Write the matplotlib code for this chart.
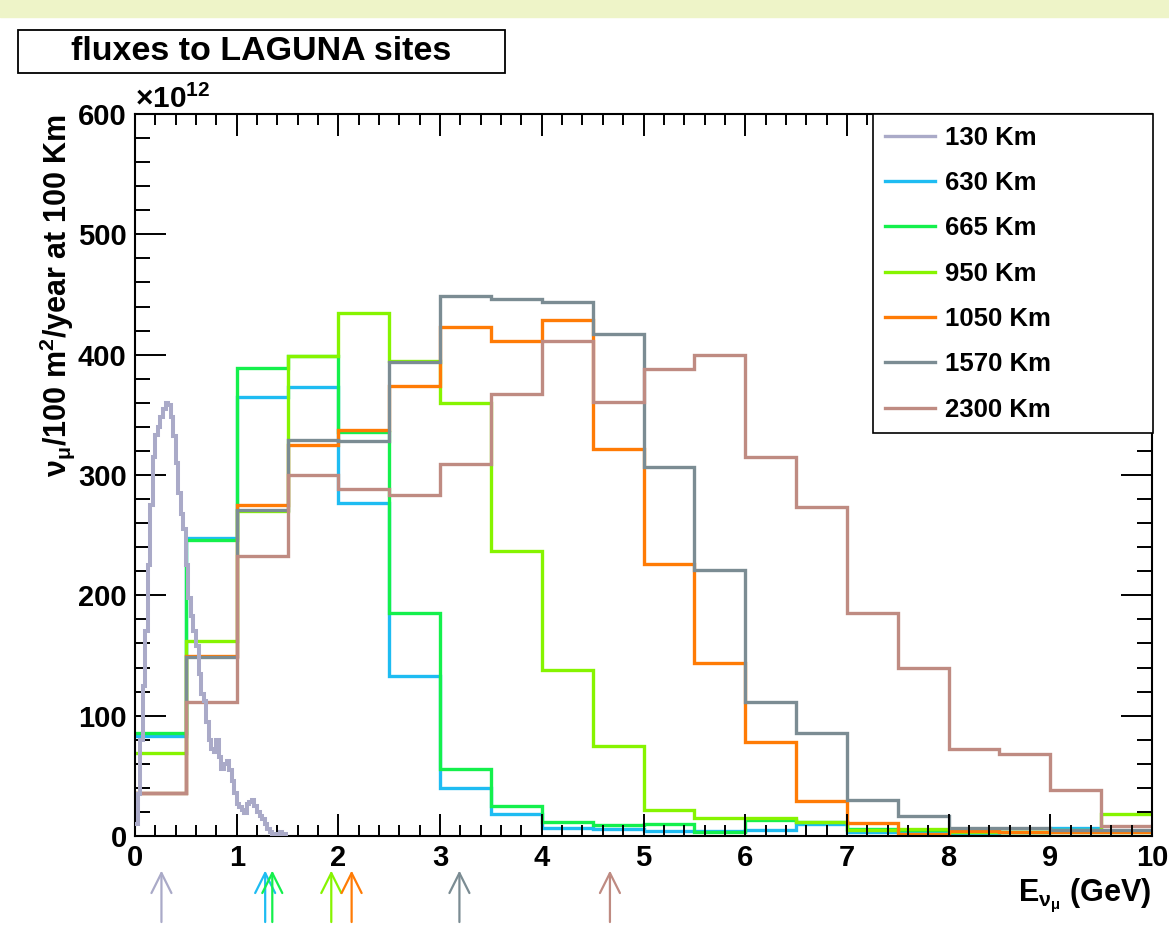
import matplotlib.pyplot as plt
import matplotlib.patches as patches
import numpy as np

plt.rcParams["font.family"] = ["Liberation Sans", "DejaVu Sans"]
plt.rcParams["font.weight"] = "bold"
plt.rcParams["axes.labelweight"] = "bold"
plt.rcParams["mathtext.default"] = "regular"

# neutrino flux per baseline, units of 1e12 nu_mu / 100 m^2 / year at 100 km
edges = np.arange(0, 10.01, 0.5)
labels = ["130 Km", "630 Km", "665 Km", "950 Km", "1050 Km", "1570 Km", "2300 Km"]
colors = ["#aaaac8", "#1ebcf2", "#14f04c", "#86f400", "#ff7b05", "#7b8c93", "#bf8b82"]

# 130 Km is finely binned (0.025 GeV) from 0 to 1.5 GeV
edges_130 = np.arange(0, 1.5001, 0.025)
flux_130 = [10, 35, 80, 125, 170, 225, 275, 315, 333, 340,
            348, 355, 360, 358, 348, 332, 310, 285, 268, 255,
            225, 198, 183, 170, 158, 135, 118, 112, 95, 80,
            72, 70, 80, 66, 56, 60, 62, 55, 46, 36,
            27, 24, 22, 19, 27, 28, 30, 25, 20, 17,
            14, 10, 6, 3, 2, 2, 1, 3, 2, 2]

flux_630 = [83, 248, 365, 373, 277, 133, 40, 18, 7, 6,
            4, 4, 5, 10, 3, 3, 2, 3, 7, 4]
flux_665 = [86, 246, 389, 399, 336, 185, 56, 25, 12, 9,
            10, 3, 13, 12, 6, 5, 3, 3, 3, 3]
flux_950 = [69, 162, 270, 399, 435, 395, 360, 237, 138, 75,
            22, 15, 15, 12, 5, 6, 3, 3, 5, 18]
flux_1050 = [36, 150, 275, 325, 337, 374, 423, 411, 429, 322,
             226, 144, 78, 29, 11, 2, 4, 3, 3, 3]
flux_1570 = [36, 149, 271, 329, 328, 394, 449, 446, 444, 417,
             307, 221, 111, 86, 30, 17, 7, 7, 5, 5]
flux_2300 = [36, 111, 233, 300, 288, 283, 309, 367, 411, 361,
             388, 400, 315, 273, 185, 140, 72, 68, 38, 8]

# first oscillation maximum for each baseline (GeV)
osc_max = [0.26, 1.28, 1.35, 1.93, 2.13, 3.19, 4.67]

fig = plt.figure(figsize=(11.69, 9.34), dpi=100)
fig.patches.append(patches.Rectangle((0, 1 - 17 / 934), 1, 17 / 934,
                                     transform=fig.transFigure, color="#eef4c8", zorder=0))

ax = fig.add_axes([135 / 1169, 1 - 836 / 934, 1017 / 1169, 722 / 934])

series = [flux_630, flux_665, flux_950, flux_1050, flux_1570, flux_2300]
for vals, col, lab in zip(series, colors[1:], labels[1:]):
    ax.stairs(vals, edges, baseline=None, color=col, linewidth=2.4, label=lab)
ax.stairs(flux_130, edges_130, baseline=None, color=colors[0], linewidth=2.9,
          label=labels[0], zorder=3)

ax.set_xlim(0, 10)
ax.set_ylim(0, 600)
ax.set_xticks(np.arange(0, 11, 1))
ax.set_xticks(np.arange(0, 10.01, 0.2), minor=True)
ax.set_yticks(np.arange(0, 601, 100))
ax.set_yticks(np.arange(0, 601, 20), minor=True)
ax.tick_params(which="both", direction="in", top=True, right=True, width=1.4,
               labelsize=21, pad=6)
ax.tick_params(axis="y", which="major", length=22)
ax.tick_params(axis="y", which="minor", length=11)
ax.tick_params(axis="x", which="major", length=16)
ax.tick_params(axis="x", which="minor", length=8)
for lab in ax.get_xticklabels() + ax.get_yticklabels():
    lab.set_fontweight("bold")
for sp in ax.spines.values():
    sp.set_linewidth(1.5)

ax.text(0, 1.0, r"$\times$10$^{12}$", transform=ax.transAxes, fontsize=21.5,
        ha="left", va="bottom")
ax.set_ylabel(r"$ν_{μ}$/100 m$^{2}$/year at 100 Km", fontsize=22, fontweight="bold",
              loc="top", labelpad=1)
ax.set_xlabel(r"E$_{ν_{μ}}$ (GeV)", fontsize=22, fontweight="bold", loc="right", labelpad=3)

leg_handles = [plt.Line2D([], [], color=c, linewidth=2.4) for c in colors]
ax.legend(leg_handles, labels, loc="upper left", bbox_to_anchor=(0.7257, 0, 0.2753, 1.0),
          mode="expand", borderaxespad=0, fontsize=18.5, fancybox=False,
          edgecolor="black", framealpha=1, labelspacing=0.83, handlelength=1.95,
          handletextpad=0.4, borderpad=0.45).get_frame().set_linewidth(1.2)

# arrows marking the first oscillation maximum
tr = ax.get_xaxis_transform()
for xm, col in zip(osc_max, colors):
    ax.annotate("", xy=(xm, -0.044), xytext=(xm, -0.123), xycoords=tr, textcoords=tr,
                annotation_clip=False,
                arrowprops=dict(arrowstyle="->", color=col, lw=1.6, mutation_scale=36))

fig.patches.append(patches.Rectangle((18 / 1169, 1 - 73 / 934), 487 / 1169, 43 / 934,
                                     transform=fig.transFigure, facecolor="white",
                                     edgecolor="black", linewidth=1.3))
fig.text(261 / 1169, 1 - 52 / 934, "fluxes to LAGUNA sites", fontsize=24.5,
         ha="center", va="center")

fig.savefig("out.png", dpi=100)
